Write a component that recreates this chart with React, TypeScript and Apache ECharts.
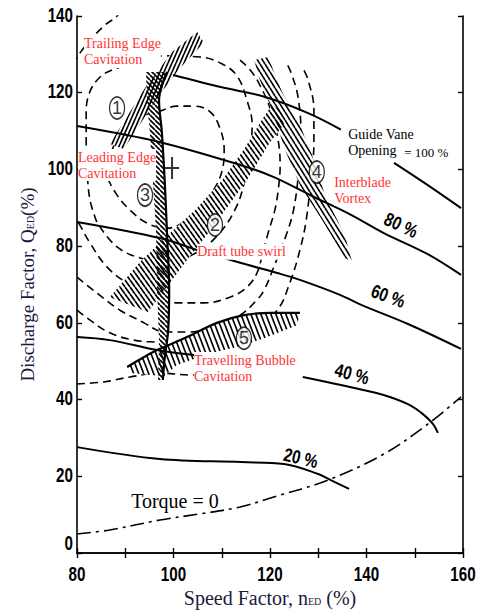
import React, { useEffect, useRef } from "react";
import * as echarts from "echarts";

// ---------- data (axis units: speed factor %, discharge factor %) ----------
const xTickValues = [80, 100, 120, 140, 160];
const yTickValues = [0, 20, 40, 60, 80, 100, 120, 140];

// guide vane opening curves (solid)
const gv100a = [[99.9, 124.6], [110, 121.4], [119, 118.9], [127.9, 114.7], [134.7, 110.4]];
const gv100b = [[145.7, 101.7], [152.7, 95.9], [159.6, 89.9]];
const gv80 = [[80, 111.3], [97.2, 107.1], [114, 101.1], [120.8, 98.0], [128.5, 93.2], [136.6, 88.3], [143.6, 83.4], [152.7, 77.9], [159.6, 72.5]];
const gv60 = [[80, 86.3], [97.2, 82.1], [104.9, 79.0], [114, 75.6], [121.5, 73.0], [126.2, 71.2], [134.5, 67.3], [138.9, 64.7], [148.6, 59.7], [159.6, 53.2]];
const gv40a = [[80, 56.3], [86.8, 55.5], [96.6, 52.9], [104.3, 51.6]];
const gv40b = [[126.8, 45.9], [134.7, 43.8], [143.0, 41.4], [148.6, 38.8], [151.7, 36.2], [153.8, 33.6], [154.8, 31.3]];
const gv20 = [[80, 27.6], [97.2, 24.5], [114, 23.7], [122.9, 23.2], [130, 20.6], [132.6, 19.0], [136.4, 16.7]];
// zero torque line (dash-dot)
const torqueZero = [[80, 4.95], [86.8, 6.0], [97.2, 8.6], [105.5, 10.2], [113.8, 12.0], [120.8, 14.6], [132.0, 19.0], [143.6, 25.8], [152.7, 33.6], [159.6, 40.7]];

// efficiency contours (dashed)
const ring1 = [[86.2, 98.0], [87.3, 105.1], [89.9, 110.8], [93.5, 113.9], [97.2, 115.2], [100.7, 116.5], [104.2, 116.5], [107.6, 115.0], [109.6, 110.8], [110.5, 105.1], [110.1, 99.8], [108.0, 94.1], [104.5, 88.9], [98.7, 84.7], [94.5, 86.0], [91.0, 89.4], [88.3, 93.3], [86.2, 98.0]];
const ring2 = [[84.1, 86.3], [82.7, 92.0], [82.1, 99.8], [81.9, 107.7], [81.9, 114.2], [82.3, 118.9], [84.8, 124.1], [88.9, 126.7], [93.1, 128.5], [98.2, 129.6], [105.5, 129.3], [110.1, 127.5], [113.2, 124.3], [115.2, 118.1], [116.3, 111.6], [115.9, 105.1], [114.8, 97.2], [112.7, 89.4], [108.6, 82.1], [103.4, 77.4], [98.7, 75.9], [93.9, 76.6], [88.3, 79.8], [84.1, 86.3]];
const ring3a = [[79.0, 127.5], [80, 129.3], [82.7, 133.7], [85.8, 137.6], [88.3, 140], [89.9, 142.9]];
const ring3b = [[113.8, 128.5], [115.9, 125.9], [117.9, 122.0], [120.0, 116.0], [121.5, 109.0], [122.1, 101.1], [121.7, 94.6], [121.0, 89.4], [119.6, 83.4], [118.3, 77.2], [117.3, 73.0], [115.2, 69.3], [111.7, 66.7], [106.3, 65.2], [100.7, 65.2], [95.1, 67.8], [90.4, 70.4], [86.2, 74.6], [82.7, 80.8], [80.6, 85.5], [79.4, 88.1]];
const ring4 = [[80, 71.9], [84.1, 67.8], [88.9, 63.3], [93.9, 60.0], [96.6, 58.1], [98.7, 57.6], [102.8, 57.6], [108.6, 59.2], [113.8, 62.0], [117.3, 66.0], [118.8, 68.6], [120.8, 74.6], [123.5, 83.4], [125.0, 90.2], [126.0, 100.6], [126.4, 109.5], [125.8, 118.9], [124.4, 125.1], [123.3, 128.0]];
const ring5 = [[80, 63.3], [82.7, 60.7], [86.8, 57.4], [91.8, 55.5], [96.0, 55.0], [103.4, 54.7], [111.7, 56.8], [117.9, 60.2], [121.5, 63.3], [124.1, 70.4], [126.2, 79.0], [127.5, 86.8], [128.5, 98.0], [129.1, 106.9], [129.1, 115.5], [127.9, 123.3], [126.8, 126.4]];
const ring6 = [[80, 44.1], [85.6, 44.6], [91.0, 45.9], [97.2, 46.9], [103.4, 46.4], [104.7, 46.4]];

// hatched phenomenon zones
const zoneTrailing = [[86.8, 106.6], [94.1, 121.2], [99.7, 130.6], [104.9, 135.8], [106.3, 133.0], [101.3, 126.4], [96.6, 118.6], [89.7, 105.3]];
const zoneDraftTube = [[86.8, 66.7], [93.1, 75.9], [98.2, 82.1], [104.5, 89.4], [110.1, 97.2], [114.8, 105.6], [118.3, 112.9], [120.4, 116.8], [122.1, 115.5], [122.9, 111.8], [120.0, 107.1], [115.2, 97.2], [108.2, 85.0], [102.8, 76.4], [94.7, 62.8]];
const zoneLeading = [[98.65, 125.4], [97.0, 118.1], [97.6, 109.5], [98.2, 96.5], [98.65, 83.4], [99.1, 68.6], [98.9, 58.1], [98.2, 51.1], [97.8, 45.1], [96.8, 45.1], [97.0, 55.5], [96.6, 68.6], [96.4, 83.4], [95.75, 96.5], [95.1, 109.5], [94.5, 118.1], [94.3, 125.4]];
const zoneInterblade = [[116.7, 128.5], [119.6, 129.3], [122.5, 120.2], [126.2, 111.6], [128.7, 103.8], [131.4, 93.3], [135.5, 82.9], [137.0, 75.9], [135.5, 76.9], [130.8, 86.8], [126.2, 95.9], [123.1, 105.1], [120.4, 115.5], [117.9, 123.3]];
const zoneBubble = [[90.4, 48.5], [93.9, 51.1], [96.6, 52.9], [102.8, 56.3], [109.0, 60.0], [114.6, 62.0], [120.0, 62.6], [126.2, 62.6], [125.6, 59.4], [118.8, 56.0], [113.2, 53.7], [107.6, 52.1], [100.7, 49.0], [98.0, 46.1], [91.0, 46.9]];
const leadingEdgeLine = [[98.65, 125.4], [97.0, 118.1], [97.6, 109.5], [98.2, 96.5], [98.65, 83.4], [99.1, 68.6], [98.9, 58.1], [98.2, 51.1], [97.8, 45.1]];
const bubbleEdgeLine = [[90.4, 48.5], [93.9, 51.1], [96.6, 52.9], [102.8, 56.3], [109.0, 60.0], [114.6, 62.0], [120.0, 62.6], [126.2, 62.6]];

// zone number markers [x, y, number]
const zoneMarkers = [[88.3, 116.0, 1], [108.6, 85.5, 2], [94.1, 93.3, 3], [129.7, 99.3, 4], [114.6, 56.0, 5]];
const bestPoint = [[99.7, 100.4]];

// annotations
const redNotes = [
  { text: "Trailing Edge\nCavitation", x: 81.45, y: 134.8 },
  { text: "Leading Edge\nCavitation", x: 80.2, y: 105.3 },
  { text: "Draft tube swirl", x: 104.9, y: 80.6 },
  { text: "Interblade\nVortex", x: 133.3, y: 98.8 },
  { text: "Travelling Bubble\nCavitation", x: 104.25, y: 52.4 },
];
const blackNotes = [
  { text: "Guide Vane\nOpening", x: 136.2, y: 111.1, kind: "note" },
  { text: "= 100 %", x: 147.8, y: 104.3, kind: "small" },
  { text: "Torque = 0", x: 100.3, y: 13.6, kind: "big" },
];
const pctNotes = [
  { text: "80 %", x: 147.15, y: 85.5, rot: -25 },
  { text: "60 %", x: 144.5, y: 67.0, rot: -20 },
  { text: "40 %", x: 137.0, y: 46.7, rot: -15 },
  { text: "20 %", x: 126.4, y: 24.8, rot: -13 },
];

// ---------- styles ----------
const SERIF = "'Liberation Serif', 'Times New Roman', serif";
const SANS = "'Liberation Sans', Arial, sans-serif";
const RED = "#ff3434";
const NAME_COLOR = "#1a1a40";
const NARROW_SCALE = 0.76;

const zones = [zoneTrailing, zoneDraftTube, zoneLeading, zoneInterblade, zoneBubble];
const hatchSpec: [string, number, number][] = [
  ["/", 4, 9],
  ["\\", 5, 7],
  ["\\", 5, 5],
  ["\\", 5, 8],
  ["\\", 5, 13],
];

function makeHatch(dir: string, w: number, h: number) {
  const c = document.createElement("canvas");
  c.width = w;
  c.height = h;
  const ctx = c.getContext("2d")!;
  ctx.strokeStyle = "#000";
  ctx.lineWidth = 1.7;
  ctx.beginPath();
  for (let k = -1; k <= 1; k++) {
    if (dir === "/") {
      ctx.moveTo(k * w, h);
      ctx.lineTo(k * w + w, 0);
    } else {
      ctx.moveTo(k * w, 0);
      ctx.lineTo(k * w + w, h);
    }
  }
  ctx.stroke();
  return { image: c.toDataURL(), imageWidth: w, imageHeight: h, repeat: "repeat" };
}

function solid(data: number[][], z = 4, width = 2) {
  return {
    type: "line",
    data,
    showSymbol: false,
    smooth: 0.35,
    silent: true,
    z,
    lineStyle: { color: "#000", width },
  };
}
function dashed(data: number[][]) {
  return {
    type: "line",
    data,
    showSymbol: false,
    smooth: 0.4,
    silent: true,
    z: 1,
    lineStyle: { color: "#000", width: 1.6, type: [8, 5] },
  };
}

export default function App() {
  const ref = useRef<HTMLDivElement>(null);
  useEffect(() => {
    if (!ref.current) return;
    const chart = echarts.init(ref.current, null, { renderer: "svg" });
    const patterns = hatchSpec.map(([d, w, h]) => makeHatch(d, w, h));

    const axisCommon = {
      type: "value",
      axisLine: { show: true, lineStyle: { color: "#000", width: 1.6 } },
      axisTick: { show: true, inside: true, length: 5, lineStyle: { color: "#000", width: 1.4 } },
      axisLabel: { show: false },
      splitLine: { show: false },
    };

    const annotations = [
      ...redNotes.map((n) => ({ ...n, kind: "red", rot: 0 })),
      ...blackNotes.map((n) => ({ ...n, rot: 0 })),
      ...pctNotes.map((n) => ({ ...n, kind: "pct" })),
    ];

    const styleFor = (kind: string) => {
      switch (kind) {
        case "red":
          return { fill: RED, fontFamily: SERIF, fontSize: 14, lineHeight: 16, align: "left", verticalAlign: "top", backgroundColor: "#fff" };
        case "note":
          return { fill: "#000", fontFamily: SERIF, fontSize: 14, lineHeight: 16, align: "left", verticalAlign: "top", backgroundColor: "#fff" };
        case "small":
          return { fill: "#000", fontFamily: SERIF, fontSize: 13, align: "left", verticalAlign: "middle", backgroundColor: "#fff" };
        case "big":
          return { fill: "#000", fontFamily: SERIF, fontSize: 20, align: "center", verticalAlign: "middle" };
        default:
          return { fill: "#000", fontFamily: SANS, fontWeight: "bold", fontSize: 19, align: "center", verticalAlign: "middle" };
      }
    };

    const tickLabelStyle = { fill: "#000", fontFamily: SANS, fontWeight: "bold", fontSize: 20 };
    const nameRich = { s: { fontFamily: SERIF, fontSize: 10, color: NAME_COLOR, verticalAlign: "bottom", padding: [0, 0, 2, 0] } };

    chart.setOption({
      animation: false,
      backgroundColor: "#fff",
      grid: { left: 77, right: 19, top: 16, bottom: 61 },
      xAxis: [
        {
          ...axisCommon,
          min: 80,
          max: 160,
          interval: 10,
          position: "bottom",
          name: "Speed Factor, n{s|ED} (%)",
          nameLocation: "middle",
          nameGap: 35,
          nameTextStyle: { fontFamily: SERIF, fontSize: 20, color: NAME_COLOR, rich: nameRich },
        },
        { ...axisCommon, min: 80, max: 160, interval: 10, position: "top" },
      ],
      yAxis: [
        {
          ...axisCommon,
          min: 0,
          max: 140,
          interval: 20,
          position: "left",
          name: "Discharge Factor, Q{s|ED}(%)",
          nameLocation: "middle",
          nameGap: 40,
          nameRotate: 90,
          nameTextStyle: { fontFamily: SERIF, fontSize: 19, color: NAME_COLOR, rich: nameRich },
        },
        { ...axisCommon, min: 0, max: 140, interval: 20, position: "right" },
      ],
      series: [
        dashed(ring1),
        dashed(ring2),
        dashed(ring3a),
        dashed(ring3b),
        dashed(ring4),
        dashed(ring5),
        dashed(ring6),
        {
          type: "custom",
          coordinateSystem: "cartesian2d",
          silent: true,
          z: 2,
          data: zones.map((zn) => zn[0]),
          renderItem: (params: any, api: any) => ({
            type: "polygon",
            shape: { points: zones[params.dataIndex].map((p) => api.coord(p)) },
            style: { fill: "#fff", stroke: "none" },
          }),
        },
        {
          type: "custom",
          coordinateSystem: "cartesian2d",
          silent: true,
          z: 3,
          data: zones.map((zn) => zn[0]),
          renderItem: (params: any, api: any) => ({
            type: "polygon",
            shape: { points: zones[params.dataIndex].map((p) => api.coord(p)) },
            style: { fill: patterns[params.dataIndex], stroke: "none" },
          }),
        },
        solid(leadingEdgeLine, 4, 2.2),
        solid(bubbleEdgeLine, 4, 2.2),
        solid(gv100a),
        solid(gv100b),
        solid(gv80),
        solid(gv60),
        solid(gv40a),
        solid(gv40b),
        solid(gv20),
        {
          type: "line",
          data: torqueZero,
          showSymbol: false,
          smooth: 0.35,
          silent: true,
          z: 4,
          lineStyle: { color: "#000", width: 1.6, type: [14, 5, 3, 5] },
        },
        {
          type: "scatter",
          data: zoneMarkers,
          silent: true,
          z: 5,
          symbol: "circle",
          symbolSize: [15, 22],
          itemStyle: { color: "#fff", borderColor: "#000", borderWidth: 1.5 },
          label: {
            show: true,
            position: "inside",
            formatter: (p: any) => String(p.value[2]),
            color: "#000",
            fontFamily: SANS,
            fontSize: 18,
          },
        },
        {
          type: "scatter",
          data: bestPoint,
          silent: true,
          z: 5,
          symbol: "path://M6,0 L8,0 L8,10 L14,10 L14,12 L8,12 L8,22 L6,22 L6,12 L0,12 L0,10 L6,10 Z",
          symbolSize: [14, 22],
          itemStyle: { color: "#000" },
        },
        // tick labels of the y axis (condensed digits)
        {
          type: "custom",
          coordinateSystem: "cartesian2d",
          silent: true,
          z: 6,
          data: yTickValues.map((v) => [80, v]),
          renderItem: (params: any, api: any) => {
            const v = yTickValues[params.dataIndex];
            const pt = api.coord([80, v]);
            return {
              type: "text",
              x: pt[0] - 4,
              y: pt[1] - (v === 0 ? 10 : 1),
              scaleX: NARROW_SCALE,
              style: { text: String(v), align: "right", verticalAlign: "middle", ...tickLabelStyle },
            };
          },
        },
        // tick labels of the x axis
        {
          type: "custom",
          coordinateSystem: "cartesian2d",
          silent: true,
          z: 6,
          data: xTickValues.map((v) => [v, 0]),
          renderItem: (params: any, api: any) => {
            const v = xTickValues[params.dataIndex];
            const pt = api.coord([v, 0]);
            return {
              type: "text",
              x: pt[0],
              y: pt[1] + 11,
              scaleX: NARROW_SCALE,
              style: { text: String(v), align: "center", verticalAlign: "top", ...tickLabelStyle },
            };
          },
        },
        {
          type: "custom",
          coordinateSystem: "cartesian2d",
          silent: true,
          z: 6,
          data: annotations.map((a) => [a.x, a.y]),
          renderItem: (params: any, api: any) => {
            const a = annotations[params.dataIndex];
            const pt = api.coord([a.x, a.y]);
            return {
              type: "text",
              x: pt[0],
              y: pt[1],
              rotation: ((a.rot || 0) * Math.PI) / 180,
              scaleX: a.kind === "pct" ? 0.8 : 1,
              style: { text: a.text, ...styleFor(a.kind) },
            };
          },
        },
      ],
    });
    return () => chart.dispose();
  }, []);
  return <div ref={ref} style={{ position: "fixed", left: 0, top: 0, width: 482, height: 614 }} />;
}
